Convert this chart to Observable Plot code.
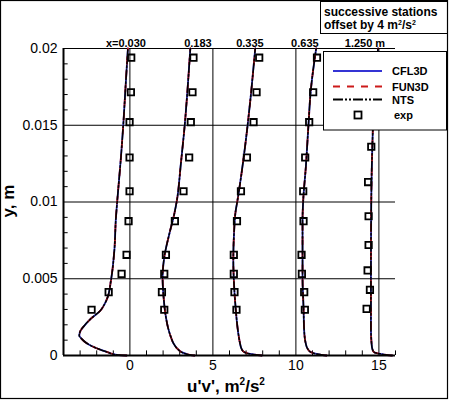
<!DOCTYPE html>
<html><head><meta charset="utf-8">
<script src="https://cdn.jsdelivr.net/npm/d3@7"></script>
<script src="https://cdn.jsdelivr.net/npm/@observablehq/plot@0.6"></script>
<style>body{margin:0;background:#fff;} svg{display:block}</style>
</head><body><div id="chart"></div>
<script>
// ---- data ----
const stationNames = ["x=0.030", "0.183", "0.335", "0.635", "1.250 m"];
const stationOffset = 4; // successive stations offset by 4 m^2/s^2
const codes = ["CFL3D", "FUN3D", "NTS"];
const xTicks = [0, 5, 10, 15];
const xTickLabels = ["0", "5", "10", "15"];
const yTicks = [0, 0.005, 0.01, 0.015, 0.02];
const yTickLabels = ["0", "0.005", "0.01", "0.015", "0.02"];

// computed u'v' profiles (all three codes coincide in the picture)
const prof1Y  = [0, 0.00003, 0.0001, 0.0002, 0.00035, 0.00054, 0.0008, 0.0011, 0.0013, 0.0016, 0.002, 0.0024, 0.0029, 0.0034, 0.0038, 0.0049, 0.0068, 0.009, 0.0101, 0.0129, 0.015, 0.0179, 0.02];
const prof1UV = [-0.2, -0.7, -1.05, -1.3, -1.7, -2.15, -2.6, -2.92, -3.05, -2.98, -2.7, -2.35, -1.8, -1.5, -1.34, -1.14, -0.94, -0.84, -0.76, -0.54, -0.4, -0.24, -0.12];
const prof2Y  = [0, 0.00003, 0.0001, 0.0002, 0.00043, 0.0008, 0.0012, 0.0018, 0.0025, 0.0038, 0.0051, 0.0064, 0.0079, 0.0092, 0.0101, 0.0125, 0.0151, 0.0173, 0.02];
const prof2UV = [-0.1, -0.35, -0.6, -0.85, -1.13, -1.38, -1.53, -1.7, -1.83, -1.97, -2.03, -1.93, -1.63, -1.33, -1.17, -0.93, -0.69, -0.53, -0.36];
const prof3Y  = [0, 0.00003, 0.0001, 0.00022, 0.00045, 0.00076, 0.0013, 0.00185, 0.0031, 0.0047, 0.0062, 0.0079, 0.0094, 0.0101, 0.0123, 0.0149, 0.017, 0.02];
const prof3UV = [-0.05, -0.3, -0.75, -1.12, -1.28, -1.36, -1.45, -1.52, -1.63, -1.73, -1.77, -1.73, -1.63, -1.52, -1.22, -0.92, -0.71, -0.45];
const prof4Y  = [0, 0.00003, 0.0001, 0.00022, 0.00045, 0.00076, 0.0016, 0.0031, 0.0051, 0.0068, 0.0088, 0.0101, 0.0123, 0.0149, 0.0173, 0.02];
const prof4UV = [-0.15, -0.4, -0.75, -1.1, -1.3, -1.4, -1.5, -1.54, -1.6, -1.6, -1.6, -1.56, -1.4, -1.25, -1.1, -0.78];
const prof5Y  = [0, 0.00003, 0.0001, 0.00022, 0.00045, 0.00076, 0.0018, 0.005, 0.01, 0.0142, 0.017, 0.02];
const prof5UV = [-0.2, -0.5, -0.9, -1.3, -1.4, -1.44, -1.48, -1.48, -1.46, -1.38, -1.28, -1.05];

// experiment
const expY   = [0.00298, 0.00413, 0.00532, 0.00656, 0.00875, 0.0107, 0.0129, 0.0152, 0.01715, 0.0194];
const exp1UV = [-2.31, -1.28, -0.5, -0.2, -0.08, -0.02, -0.02, -0.02, 0.06, 0.08];
const exp2UV = [-1.93, -2.07, -1.93, -1.83, -1.29, -0.77, -0.43, -0.33, -0.23, -0.17];
const exp3UV = [-1.58, -1.70, -1.74, -1.74, -1.55, -1.31, -0.95, -0.55, -0.37, -0.21];
const exp4UV = [-1.46, -1.5, -1.64, -1.66, -1.54, -1.56, -1.44, -1.2, -0.96, -0.73];
const exp5Y  = [0.00304, 0.00428, 0.00554, 0.0072, 0.00907, 0.0113, 0.0136];
const exp5UV = [-1.74, -1.54, -1.68, -1.62, -1.62, -1.65, -1.46];

// ---- tables ----
const profY = [prof1Y, prof2Y, prof3Y, prof4Y, prof5Y];
const profUV = [prof1UV, prof2UV, prof3UV, prof4UV, prof5UV];
const expYs = [expY, expY, expY, expY, exp5Y];
const expUVs = [exp1UV, exp2UV, exp3UV, exp4UV, exp5UV];

const curves = [];
codes.forEach(code => stationNames.forEach((s, i) => profY[i].forEach((y, j) =>
  curves.push({code, station: s, y, uv: profUV[i][j] + i * stationOffset}))));
const exp = [];
stationNames.forEach((s, i) => expYs[i].forEach((y, j) =>
  exp.push({station: s, y, uv: expUVs[i][j] + i * stationOffset})));

const minorX = d3.range(-3, 17).filter(v => v % 5 !== 0);
const minorY = d3.range(1, 20).filter(v => v % 5 !== 0).map(v => v / 1000);

const blue = "#3434d4", red = "#cc1a1a";
const font = "'Liberation Sans', Arial, Helvetica, sans-serif";

const labelX = [-0.24, 4.1, 7.23, 10.54, 14.16];

const chart = Plot.plot({
  width: 450, height: 401,
  marginLeft: 63, marginRight: 55, marginTop: 48, marginBottom: 46,
  style: {fontFamily: font, background: "#fff", color: "#000"},
  x: {domain: [-4, 16]},
  y: {domain: [0, 0.02]},
  marks: [
    Plot.ruleX(xTicks, {y1: 0, y2: 0.02, stroke: "#000", strokeWidth: 1}),
    Plot.ruleY(yTicks.slice(1), {x1: -4, x2: 16, stroke: "#000", strokeWidth: 1}),
    Plot.ruleY(minorY, {x1: -4, x2: -3.72, stroke: "#000", strokeWidth: 1}),
    Plot.ruleX(minorX, {y1: 0, y2: 0.0003, stroke: "#000", strokeWidth: 1}),
    Plot.line(curves.filter(d => d.code === "CFL3D"), {x: "uv", y: "y", z: "station", stroke: blue, strokeWidth: 1.8, curve: "monotone-y"}),
    Plot.line(curves.filter(d => d.code === "FUN3D"), {x: "uv", y: "y", z: "station", stroke: red, strokeWidth: 1.8, strokeDasharray: "7,7", curve: "monotone-y"}),
    Plot.line(curves.filter(d => d.code === "NTS"), {x: "uv", y: "y", z: "station", stroke: "#000", strokeWidth: 1.6, strokeDasharray: "10,2,2,2,2,2", curve: "monotone-y"}),
    Plot.ruleX([-4], {y1: 0, y2: 0.02, stroke: "#000", strokeWidth: 2}),
    Plot.ruleY([0], {x1: -4, x2: 16, stroke: "#000", strokeWidth: 2}),
    Plot.dot(exp, {x: "uv", y: "y", symbol: "square", r: 3.6, stroke: "#000", strokeWidth: 1.8, fill: "none"}),
    Plot.text(stationNames, {x: (d, i) => labelX[i], y: () => 0.02, text: d => d, dy: -2, lineAnchor: "bottom", fontSize: 11, fontWeight: "bold", fill: "#000"}),
    Plot.axisX({ticks: xTicks, tickFormat: d => xTickLabels[xTicks.indexOf(d)], tickSize: 0, tickPadding: 5, fontSize: 14, label: null}),
    Plot.axisY({ticks: yTicks, tickFormat: d => yTickLabels[yTicks.indexOf(d)], tickSize: 0, tickPadding: 6, fontSize: 14, label: null})
  ]
});
document.getElementById("chart").appendChild(chart);

const svg = d3.select(chart);
// axis titles
const xl = svg.append("text").attr("x", 226).attr("y", 392).attr("text-anchor", "middle")
  .attr("font-family", font).attr("font-size", 17).attr("font-weight", "bold").attr("fill", "#000");
xl.append("tspan").text("u'v', m");
xl.append("tspan").text("2").attr("font-size", 10).attr("dy", -7);
xl.append("tspan").text("/s").attr("dy", 7);
xl.append("tspan").text("2").attr("font-size", 10).attr("dy", -7);

svg.append("text").attr("transform", "translate(14,201) rotate(-90)").attr("text-anchor", "middle")
  .attr("font-family", font).attr("font-size", 17).attr("font-weight", "bold").attr("fill", "#000").text("y, m");

// annotation box
svg.append("rect").attr("x", 320.5).attr("y", 1.5).attr("width", 127).attr("height", 32)
  .attr("fill", "#fff").attr("stroke", "#000").attr("stroke-width", 1);
svg.append("text").attr("x", 324).attr("y", 15.5).attr("text-anchor", "start").attr("font-family", font).attr("font-size", 12)
  .attr("font-weight", "bold").attr("fill", "#000").text("successive stations");
const t2 = svg.append("text").attr("x", 324).attr("y", 29).attr("text-anchor", "start").attr("font-family", font).attr("font-size", 12)
  .attr("font-weight", "bold").attr("fill", "#000");
t2.append("tspan").text("offset by 4 m");
t2.append("tspan").text("2").attr("font-size", 7).attr("dy", -4);
t2.append("tspan").text("/s").attr("dy", 4);
t2.append("tspan").text("2").attr("font-size", 7).attr("dy", -4);

// legend
const lg = svg.append("g");
lg.append("rect").attr("x", 323.5).attr("y", 51.5).attr("width", 123).attr("height", 78.5)
  .attr("fill", "#fff").attr("stroke", "#000").attr("stroke-width", 1);
const legendRows = [
  {name: codes[0], y: 71, stroke: blue, dash: null},
  {name: codes[1], y: 86.5, stroke: red, dash: "7,7"},
  {name: codes[2], y: 99.5, stroke: "#000", dash: "10,2,2,2,2,2"}
];
legendRows.forEach(r => {
  lg.append("line").attr("x1", 333).attr("x2", 382).attr("y1", r.y).attr("y2", r.y)
    .attr("stroke", r.stroke).attr("stroke-width", 2).attr("stroke-dasharray", r.dash);
  lg.append("text").attr("x", 392).attr("y", r.y + 4).attr("text-anchor", "start").attr("font-family", font).attr("font-size", 11)
    .attr("font-weight", "bold").attr("fill", "#000").text(r.name);
});
lg.append("rect").attr("x", 354.5).attr("y", 111.5).attr("width", 7).attr("height", 7)
  .attr("fill", "none").attr("stroke", "#000").attr("stroke-width", 1.8);
lg.append("text").attr("x", 394).attr("y", 119).attr("text-anchor", "start").attr("font-family", font).attr("font-size", 11)
  .attr("font-weight", "bold").attr("fill", "#000").text("exp");

// outer frame
svg.append("rect").attr("x", 0.5).attr("y", 0.5).attr("width", 447).attr("height", 398)
  .attr("fill", "none").attr("stroke", "#000").attr("stroke-width", 1.2);
</script>
</body></html>
